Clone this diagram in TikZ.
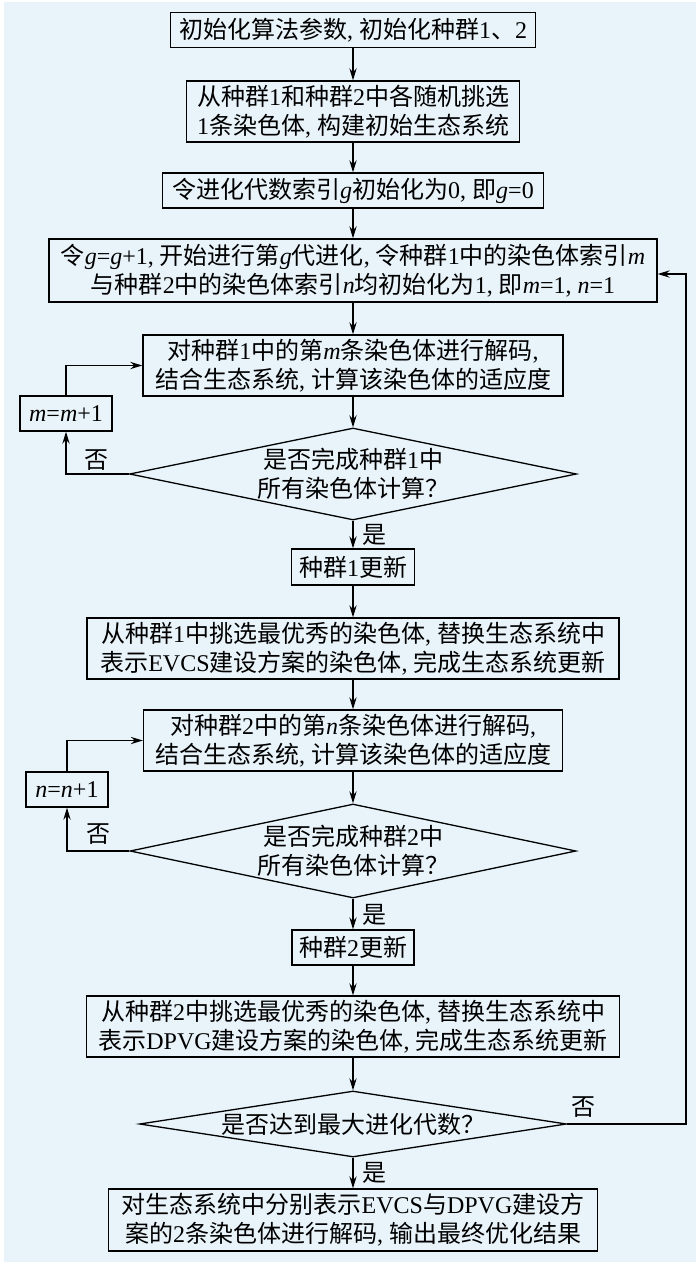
\documentclass[tikz,border=0pt]{standalone}
\usepackage{fontspec}
\setmainfont{Liberation Serif}
\newfontfamily\cjk{Noto Sans CJK SC}
\newcommand\ZH[1]{{\cjk #1}}
\usetikzlibrary{shapes.geometric,arrows.meta}
\definecolor{bgblue}{RGB}{232,243,250}
\begin{document}
\begin{tikzpicture}[x=0.5pt,y=-0.5pt,
  box/.style={draw, line width=0.65pt, inner sep=0pt, align=center, font=\fontsize{12pt}{14.5pt}\selectfont},
  dia/.style={draw, diamond, line width=0.65pt, inner sep=0pt},
  txt/.style={align=center, inner sep=0pt, font=\fontsize{12pt}{14.5pt}\selectfont},
  arr/.style={line width=0.65pt, -{Stealth[length=6pt,width=3.6pt]}},
  lbl/.style={inner sep=0pt, font=\fontsize{12pt}{14pt}\selectfont}]
\useasboundingbox (0,0) rectangle (700,1263);
\fill[white] (0,0) rectangle (700,1263);
\fill[bgblue] (4,2) rectangle (696,1262);

\node[box, minimum width=182.5pt, minimum height=17.5pt] (b1) at (353,30)
  {\ZH{初始化算法参数}, \ZH{初始化种群}1\ZH{、}2};
\node[box, minimum width=166.5pt, minimum height=30.5pt] (b2) at (353,111.5)
  {\ZH{从种群}1\ZH{和种群}2\ZH{中各随机挑选}\\1\ZH{条染色体}, \ZH{构建初始生态系统}};
\node[box, minimum width=190.5pt, minimum height=17.5pt] (b3) at (353,190.5)
  {\ZH{令进化代数索引}\textit{g}\ZH{初始化为}0, \ZH{即}\textit{g}=0};
\node[box, minimum width=304pt, minimum height=31.5pt] (b4) at (353,270.5)
  {\ZH{令}\textit{g}=\textit{g}+1, \ZH{开始进行第}\textit{g}\ZH{代进化}, \ZH{令种群}1\ZH{中的染色体索引}\textit{m}\\\ZH{与种群}2\ZH{中的染色体索引}\textit{n}\ZH{均初始化为}1, \ZH{即}\textit{m}=1, \textit{n}=1};
\node[box, minimum width=210pt, minimum height=30.5pt] (b5) at (353,365.5)
  {\ZH{对种群}1\ZH{中的第}\textit{m}\ZH{条染色体进行解码},\\\ZH{结合生态系统}, \ZH{计算该染色体的适应度}};
\node[box, minimum width=46pt, minimum height=17.5pt] (mb) at (66,413.5)
  {\textit{m}=\textit{m}+1};
\node[dia, minimum width=223.5pt, minimum height=46pt] (d1) at (353,474) {};
\node[txt] (d1t) at (d1) {\ZH{是否完成种群}1\ZH{中}\\\ZH{所有染色体计算？}};
\node[box, minimum width=61.5pt, minimum height=18pt] (b6) at (353,567)
  {\ZH{种群}1\ZH{更新}};
\node[box, minimum width=266pt, minimum height=30.5pt] (b7) at (353,648.5)
  {\ZH{从种群}1\ZH{中挑选最优秀的染色体}, \ZH{替换生态系统中}\\\ZH{表示}EVCS\ZH{建设方案的染色体}, \ZH{完成生态系统更新}};
\node[box, minimum width=209.5pt, minimum height=30.5pt] (b8) at (353,740.5)
  {\ZH{对种群}2\ZH{中的第}\textit{n}\ZH{条染色体进行解码},\\\ZH{结合生态系统}, \ZH{计算该染色体的适应度}};
\node[box, minimum width=41pt, minimum height=17.5pt] (nb) at (67,789.5)
  {\textit{n}=\textit{n}+1};
\node[dia, minimum width=223pt, minimum height=47pt] (d2) at (353,851) {};
\node[txt] (d2t) at (d2) {\ZH{是否完成种群}2\ZH{中}\\\ZH{所有染色体计算？}};
\node[box, minimum width=61pt, minimum height=17.5pt] (b9) at (353,947.5)
  {\ZH{种群}2\ZH{更新}};
\node[box, minimum width=266.5pt, minimum height=30.5pt] (b10) at (353,1026.5)
  {\ZH{从种群}2\ZH{中挑选最优秀的染色体}, \ZH{替换生态系统中}\\\ZH{表示}DPVG\ZH{建设方案的染色体}, \ZH{完成生态系统更新}};
\node[dia, minimum width=213.5pt, minimum height=33pt] (d3) at (353,1124) {};
\node[txt] (d3t) at (d3) {\ZH{是否达到最大进化代数？}};
\node[box, minimum width=244.5pt, minimum height=31pt] (b11) at (353,1220)
  {\ZH{对生态系统中分别表示}EVCS\ZH{与}DPVG\ZH{建设方}\\\ZH{案的}2\ZH{条染色体进行解码}, \ZH{输出最终优化结果}};

\node[lbl] (no1) at (96,460) {\ZH{否}};
\node[lbl] (yes1) at (374,535) {\ZH{是}};
\node[lbl] (no2) at (98,834) {\ZH{否}};
\node[lbl] (yes2) at (374,915) {\ZH{是}};
\node[lbl] (no3) at (583,1107) {\ZH{否}};
\node[lbl] (yes3) at (374,1173) {\ZH{是}};

\draw[arr] (b1) -- (b2);
\draw[arr] (b2) -- (b3);
\draw[arr] (b3) -- (b4);
\draw[arr] (b4) -- (b5);
\draw[arr] (b5) -- (d1);
\draw[arr] (d1) -- (b6);
\draw[arr] (b6) -- (b7);
\draw[arr] (b7) -- (b8);
\draw[arr] (b8) -- (d2);
\draw[arr] (d2) -- (b9);
\draw[arr] (b9) -- (b10);
\draw[arr] (b10) -- (d3);
\draw[arr] (d3) -- (b11);
\draw[arr] (d1.west) -| (mb.south);
\draw[arr] (mb.north) |- (b5.west);
\draw[arr] (d2.west) -| (nb.south);
\draw[arr] (nb.north) |- (b8.west);
\coordinate (rt) at (686,274);
\draw[arr] (d3.east) -| (rt) -- (rt -| b4.east);
\end{tikzpicture}
\end{document}
